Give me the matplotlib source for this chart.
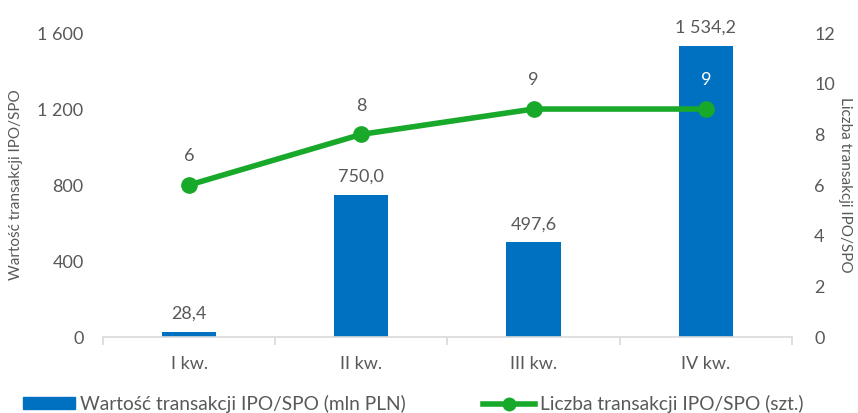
import matplotlib
matplotlib.use("Agg")
import matplotlib.pyplot as plt
from matplotlib.ticker import FuncFormatter
from matplotlib.lines import Line2D
from matplotlib.patches import Patch

plt.rcParams['font.family'] = ['Lato', 'DejaVu Sans']

quarters = ["I kw.", "II kw.", "III kw.", "IV kw."]
values = [28.4, 750.0, 497.6, 1534.2]   # mln PLN
counts = [6, 8, 9, 9]                    # szt.

BAR = "#0070c0"
LINE = "#18a82a"
TXT = "#595959"
GRID = "#d9d9d9"


def pl_num(v, dec=0):
    s = f"{v:,.{dec}f}"
    return s.replace(",", " ").replace(".", ",")


fig = plt.figure(figsize=(8.58, 4.13), dpi=100)
ax = fig.add_axes([0.120, 0.184, 0.803, 0.736])
ax2 = ax.twinx()

x = list(range(len(quarters)))
ax.bar(x, values, width=0.315, color=BAR, zorder=2)
ax.set_xlim(-0.5, len(quarters) - 0.5)
ax.set_ylim(0, 1600)
ax.set_yticks([0, 400, 800, 1200, 1600])
ax.yaxis.set_major_formatter(FuncFormatter(lambda v, p: pl_num(v)))

ax2.plot(x, counts, color=LINE, lw=4, marker="o", ms=11, zorder=3, solid_capstyle="butt")
ax2.set_ylim(0, 12)
ax2.set_yticks(range(0, 13, 2))

for a in (ax, ax2):
    for s in a.spines.values():
        s.set_visible(False)
    a.tick_params(axis="y", length=0, labelsize=13, colors=TXT)

ax.spines["bottom"].set_visible(True)
ax.spines["bottom"].set_color(GRID)
ax.spines["bottom"].set_linewidth(1.2)
ax.set_xticks(x)
ax.set_xticklabels(quarters)
ax.set_xticks([-0.5, 0.5, 1.5, 2.5, 3.5], minor=True)
ax.tick_params(axis="x", which="major", length=0, labelsize=13, colors=TXT, pad=14)
ax.tick_params(axis="x", which="minor", length=6, color=GRID, width=1.2)
ax.tick_params(axis="y", pad=14)
ax2.tick_params(axis="y", pad=16)

ax.set_ylabel("Wartość transakcji IPO/SPO", fontsize=11, color=TXT, labelpad=10)
ax2.set_ylabel("Liczba transakcji IPO/SPO", fontsize=11, color=TXT, rotation=270, labelpad=12)

# value labels above bars
for xi, v in zip(x, values):
    ax.annotate(pl_num(v, 1), (xi, v), xytext=(0, 7), textcoords="offset points",
                ha="center", va="bottom", fontsize=13, color=TXT)

# count labels above line points
for xi, c, v in zip(x, counts, values):
    inside = v / 1600 * 12 > c + 1.5
    ax2.annotate(str(c), (xi, c), xytext=(0, 15), textcoords="offset points",
                 ha="center", va="bottom", fontsize=13,
                 color="white" if inside else TXT)

legend_kw = dict(frameon=False, fontsize=13.8, handlelength=2.7, handleheight=0.57,
                 handletextpad=0.25, borderpad=0, borderaxespad=0, labelcolor=TXT,
                 loc="center left")
fig.legend([Patch(facecolor=BAR, edgecolor=BAR)],
           ["Wartość transakcji IPO/SPO (mln PLN)"],
           bbox_to_anchor=(0.027, 0.022), **legend_kw)
fig.legend([Line2D([0], [0], color=LINE, lw=4, marker="o", ms=9)],
           ["Liczba transakcji IPO/SPO (szt.)"],
           bbox_to_anchor=(0.563, 0.022), **legend_kw)

fig.savefig("out.png", dpi=100)
